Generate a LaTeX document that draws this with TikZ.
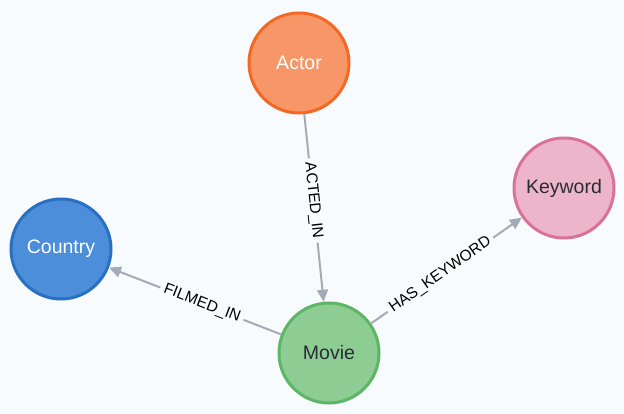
\documentclass[tikz,border=0pt]{standalone}
\usepackage{fontspec}
\setmainfont{Liberation Sans}
\usetikzlibrary{arrows.meta}
\definecolor{bg}{HTML}{F8FBFE}
\definecolor{edgegray}{HTML}{A5ABB6}
\definecolor{darktext}{HTML}{2A2C34}
\definecolor{actorfill}{HTML}{F79767}
\definecolor{actorline}{HTML}{F36924}
\definecolor{moviefill}{HTML}{8DCC93}
\definecolor{movieline}{HTML}{5DB665}
\definecolor{countryfill}{HTML}{4C8EDA}
\definecolor{countryline}{HTML}{2870C2}
\definecolor{keywordfill}{HTML}{ECB5C9}
\definecolor{keywordline}{HTML}{DA7298}

\begin{document}
\begin{tikzpicture}[x=1pt,y=-1pt,
	entity/.style={circle, minimum size=100pt, inner sep=0pt, line width=3pt, font=\fontsize{19.5}{23}\selectfont},
	rel/.style={draw=edgegray, line width=2pt, -{Triangle[length=12pt,width=11pt]}},
	lbl/.style={sloped, pos=0.46, fill=bg, inner sep=4pt, text=black, font=\fontsize{15.5}{18}\selectfont}]
	\useasboundingbox[fill=bg] (0,0) rectangle (624,414);

	\node[entity, fill=actorfill, draw=actorline, text=white] (actor) at (299,63) {Actor};
	\node[entity, fill=moviefill, draw=movieline, text=darktext] (movie) at (329,353) {Movie};
	\node[entity, fill=countryfill, draw=countryline, text=white] (country) at (61,249) {Country};
	\node[entity, fill=keywordfill, draw=keywordline, text=darktext] (keyword) at (564,188) {Keyword};

	% relationships
	\draw[rel](actor) -- node[lbl]{ACTED\_IN} (movie);
	\draw[rel](movie) -- node[lbl]{FILMED\_IN} (country);
	\draw[rel](movie) -- node[lbl]{HAS\_KEYWORD} (keyword);
\end{tikzpicture}
\end{document}
